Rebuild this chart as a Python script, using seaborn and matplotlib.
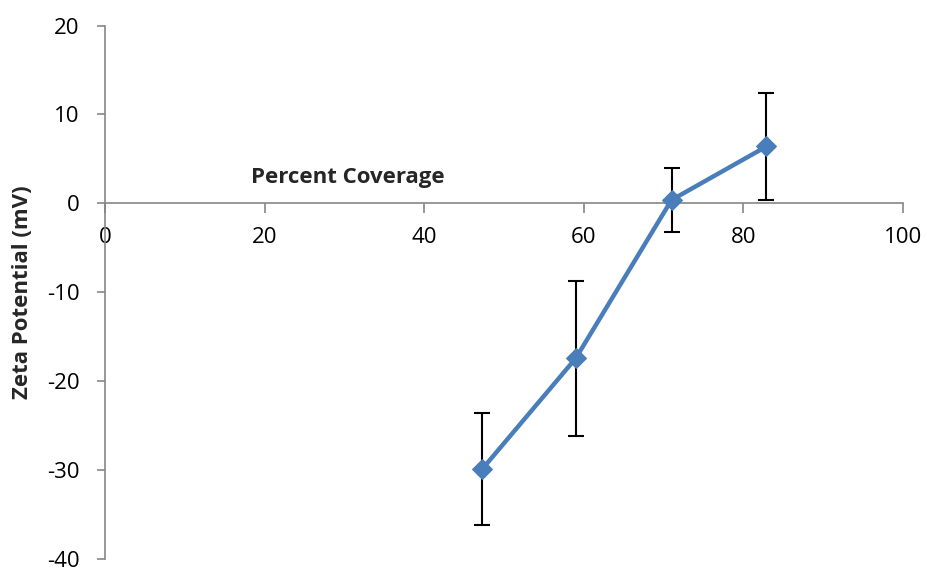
import matplotlib
matplotlib.use("Agg")
import matplotlib.pyplot as plt
import seaborn as sns
import pandas as pd

# Measured zeta potential versus surface coverage
coverage = [47.3, 59.0, 71.0, 82.9]
zeta_mv = [-29.9, -17.45, 0.37, 6.4]
zeta_err = [6.3, 8.7, 3.65, 6.05]

x_ticks = [0, 20, 40, 60, 80, 100]
y_ticks = [-40, -30, -20, -10, 0, 10, 20]

sns.set_theme(style="white")
plt.rcParams["font.family"] = ["Open Sans", "DejaVu Sans"]
plt.rcParams["axes.unicode_minus"] = False

df = pd.DataFrame({"coverage": coverage, "zeta": zeta_mv, "err": zeta_err})

fig = plt.figure(figsize=(9.27, 5.68), dpi=100)
ax = fig.add_axes([0.1133, 0.0167, 0.974 - 0.1133, 0.9548 - 0.0167])

line_color = "#4A7EBB"
axis_color = "#868686"

ax.errorbar(df["coverage"], df["zeta"], yerr=df["err"], fmt="none",
            ecolor="black", elinewidth=1.5, capsize=6, capthick=1.5, zorder=2)
sns.lineplot(data=df, x="coverage", y="zeta", ax=ax, color=line_color,
             linewidth=3.2, marker="D", markersize=10, markeredgecolor=line_color,
             zorder=3)

ax.set_xlim(0, 100)
ax.set_ylim(-40, 20)
ax.set_xticks(x_ticks)
ax.set_yticks(y_ticks)

ax.spines["left"].set_position(("data", 0))
ax.spines["bottom"].set_position(("data", 0))
ax.spines["top"].set_visible(False)
ax.spines["right"].set_visible(False)
for side in ("left", "bottom"):
    ax.spines[side].set_color(axis_color)
    ax.spines[side].set_linewidth(1.2)

ax.tick_params(axis="both", which="major", direction="out",
               width=1.2, color=axis_color, labelsize=16, labelcolor="black",
               left=True, bottom=True)
ax.tick_params(axis="y", length=6, pad=12.5)
ax.tick_params(axis="x", length=7, pad=10)

ax.set_xlabel("")
ax.set_ylabel("")
fig.text(23 / 927, 1 - 292 / 568, "Zeta Potential (mV)", fontsize=16,
         fontweight="bold", rotation=90, ha="center", va="center")
ax.text(30.4, 2.96, "Percent Coverage", fontsize=16, fontweight="bold",
        ha="center", va="center")
ax.grid(False)

fig.savefig("out.png", dpi=100)
